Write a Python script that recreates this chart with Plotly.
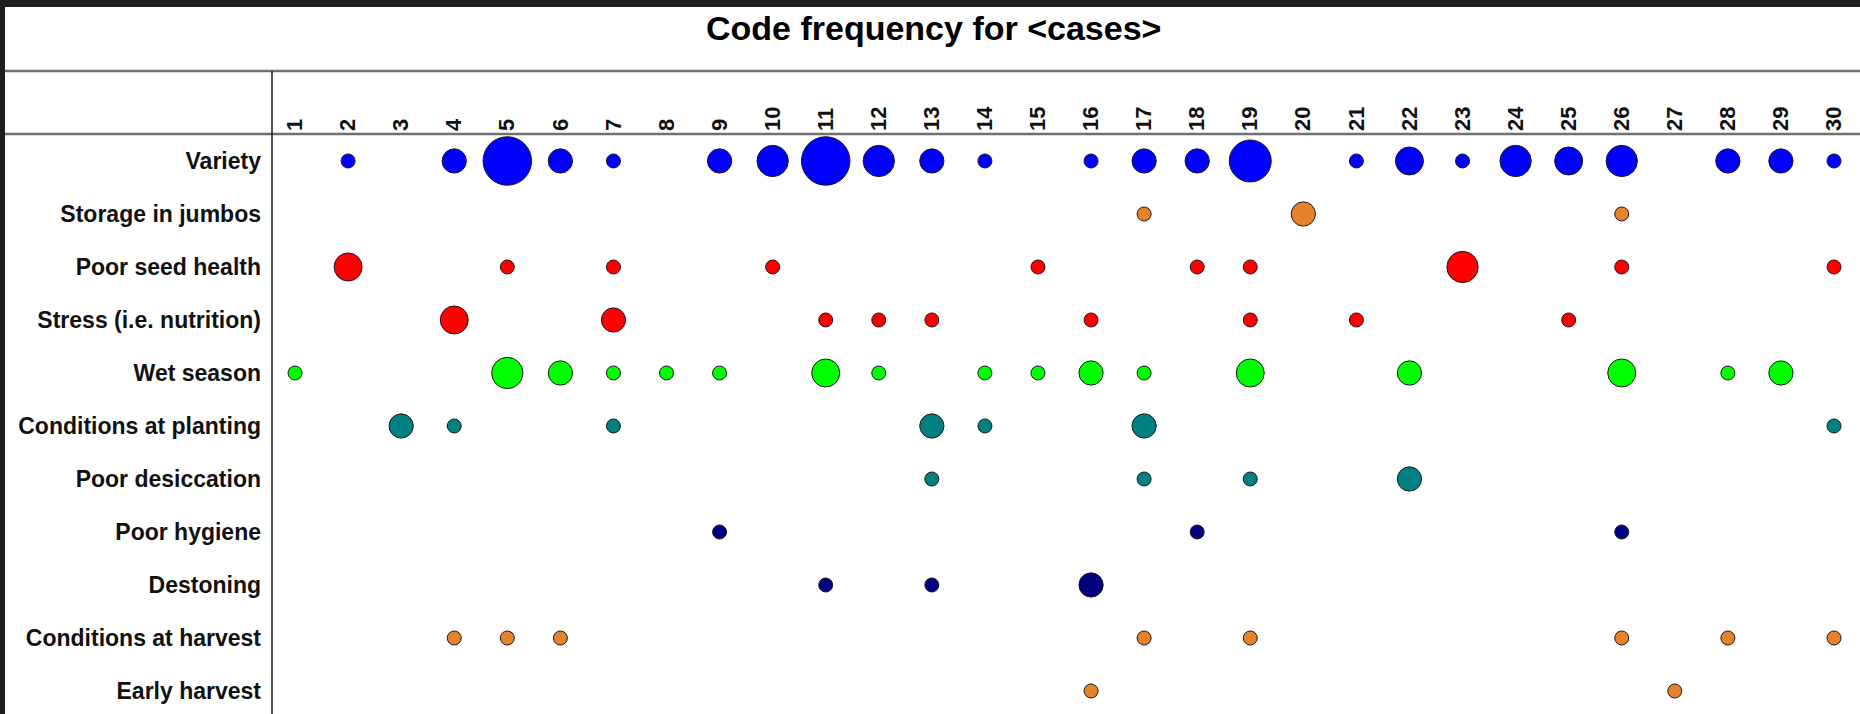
import plotly.graph_objects as go

# ---------------- data ----------------
codes = ["Variety", "Storage in jumbos", "Poor seed health", "Stress (i.e. nutrition)",
         "Wet season", "Conditions at planting", "Poor desiccation", "Poor hygiene",
         "Destoning", "Conditions at harvest", "Early harvest"]
case_ids = list(range(1, 31))
case_labels = [str(c) for c in case_ids]

variety_cases = [2, 4, 5, 6, 7, 9, 10, 11, 12, 13, 14, 16, 17, 18, 19, 21, 22, 23, 24, 25, 26, 28, 29, 30]
variety_counts = [1, 3, 12, 3, 1, 3, 5, 12, 5, 3, 1, 1, 3, 3, 9, 1, 4, 1, 5, 4, 5, 3, 3, 1]
storage_cases = [17, 20, 26]
storage_counts = [1, 3, 1]
seed_cases = [2, 5, 7, 10, 15, 18, 19, 23, 26, 30]
seed_counts = [4, 1, 1, 1, 1, 1, 1, 5, 1, 1]
stress_cases = [4, 7, 11, 12, 13, 16, 19, 21, 25]
stress_counts = [4, 3, 1, 1, 1, 1, 1, 1, 1]
wet_cases = [1, 5, 6, 7, 8, 9, 11, 12, 14, 15, 16, 17, 19, 22, 26, 28, 29]
wet_counts = [1, 5, 3, 1, 1, 1, 4, 1, 1, 1, 3, 1, 4, 3, 4, 1, 3]
planting_cases = [3, 4, 7, 13, 14, 17, 30]
planting_counts = [3, 1, 1, 3, 1, 3, 1]
desiccation_cases = [13, 17, 19, 22]
desiccation_counts = [1, 1, 1, 3]
hygiene_cases = [9, 18, 26]
hygiene_counts = [1, 1, 1]
destoning_cases = [11, 13, 16]
destoning_counts = [1, 1, 3]
harvest_cases = [4, 5, 6, 17, 19, 26, 28, 30]
harvest_counts = [1, 1, 1, 1, 1, 1, 1, 1]
early_cases = [16, 27]
early_counts = [1, 1]

row_cases = [variety_cases, storage_cases, seed_cases, stress_cases, wet_cases, planting_cases,
             desiccation_cases, hygiene_cases, destoning_cases, harvest_cases, early_cases]
row_counts = [variety_counts, storage_counts, seed_counts, stress_counts, wet_counts, planting_counts,
              desiccation_counts, hygiene_counts, destoning_counts, harvest_counts, early_counts]
row_colors = ["#0000FF", "#E6822A", "#FF0000", "#FF0000", "#00FF00", "#008080",
              "#008080", "#000080", "#000080", "#E6822A", "#E6822A"]

# ---------------- layout geometry (pixels) ----------------
W, H = 1860, 714
TITLE_LINE = 71
HEAD_LINE = 134
VLINE = 272

def py(p):
    return 1 - p / H

def px(p):
    return p / W

fig = go.Figure()
for code, cases, counts, col in zip(codes, row_cases, row_counts, row_colors):
    fig.add_trace(go.Scatter(
        x=cases, y=[code] * len(cases), mode="markers", name=code,
        marker=dict(size=counts, sizemode="area", sizeref=1 / 98, sizemin=1, opacity=1,
                    color=col, line=dict(color="#1a1a1a", width=1)),
        cliponaxis=False, showlegend=False,
        hovertemplate=code + "<br>case %{x}: %{marker.size}<extra></extra>",
    ))

font_family = "Arial, Liberation Sans, sans-serif"

fig.update_layout(
    width=W, height=H,
    margin=dict(l=0, r=0, t=0, b=0),
    paper_bgcolor="white", plot_bgcolor="white",
    font=dict(family=font_family, color="#111111"),
    xaxis=dict(domain=[px(VLINE), 1], range=[0.566, 30.49], side="top",
               tickmode="array", tickvals=case_ids, ticktext=case_labels,
               tickangle=-90, tickfont=dict(size=22, weight="bold", family=font_family),
               showgrid=False, zeroline=False, showline=False, ticks="",
               ticklabelstandoff=2, fixedrange=True),
    yaxis=dict(domain=[0, py(HEAD_LINE)], type="category", categoryarray=codes,
               categoryorder="array", range=[10.434, -0.509],
               tickfont=dict(size=23, weight="bold", family=font_family),
               showgrid=False, zeroline=False, showline=False, ticks="",
               ticklabelstandoff=10, fixedrange=True),
    shapes=[
        dict(type="line", xref="paper", yref="paper", x0=0, x1=1, y0=py(TITLE_LINE), y1=py(TITLE_LINE),
             line=dict(color="#707070", width=2.5)),
        dict(type="line", xref="paper", yref="paper", x0=0, x1=1, y0=py(HEAD_LINE), y1=py(HEAD_LINE),
             line=dict(color="#707070", width=2.5)),
        dict(type="line", xref="paper", yref="paper", x0=px(VLINE), x1=px(VLINE), y0=0, y1=py(TITLE_LINE),
             line=dict(color="#1a1a1a", width=1.5)),
        dict(type="rect", xref="paper", yref="paper", x0=0, x1=1, y0=py(7), y1=1,
             line=dict(width=0), fillcolor="#1e1e1e"),
        dict(type="rect", xref="paper", yref="paper", x0=0, x1=px(5), y0=0, y1=1,
             line=dict(width=0), fillcolor="#1e1e1e"),
    ],
    annotations=[
        dict(text="<b>Code frequency for &lt;cases&gt;</b>", xref="paper", yref="paper",
             x=px(933), y=py(28), xanchor="center", yanchor="middle", showarrow=False,
             font=dict(size=34, family=font_family, color="#000000")),
    ],
)

fig.write_html(
    "out.html",
    config={"displayModeBar": False},
    post_script=("document.documentElement.style.margin='0';"
                 "document.documentElement.style.overflow='hidden';"
                 "document.body.style.margin='0';document.body.style.overflow='hidden';"),
)
